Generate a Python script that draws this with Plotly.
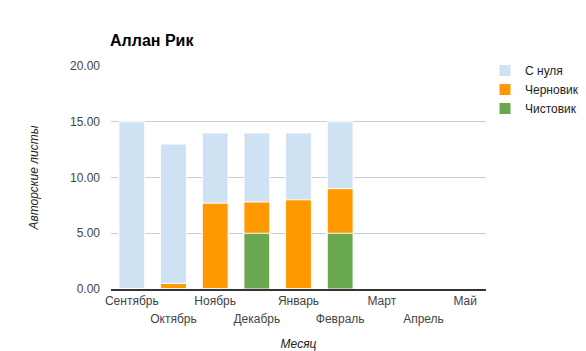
import plotly.graph_objects as go

months = ["Сентябрь", "Октябрь", "Ноябрь", "Декабрь", "Январь", "Февраль", "Март", "Апрель", "Май"]
s_nulya = [15, 13, 14, 14, 14, 15, 0, 0, 0]
chernovik = [0, 0.5, 7.7, 7.8, 8, 9, 0, 0, 0]
chistovik = [0, 0, 0, 5, 0, 5, 0, 0, 0]

names = ["С нуля", "Черновик", "Чистовик"]
colors = ["#cfe2f3", "#ff9900", "#6aa84f"]
series = [s_nulya, chernovik, chistovik]

FONT = "Liberation Sans, Arial, sans-serif"

fig = go.Figure()
for name, vals, c in zip(names, series, colors):
    fig.add_trace(go.Bar(x=months, y=vals, name=name, marker=dict(color=c, line=dict(color="white", width=1)),
                         width=0.62))
# invisible trace for second label row axis
fig.add_trace(go.Scatter(x=months, y=[None]*len(months), xaxis="x2", mode="markers",
                         marker=dict(opacity=0), showlegend=False, hoverinfo="skip"))

even_vals = months[0::2]
odd_vals = months[1::2]

fig.update_layout(
    width=586, height=351,
    barmode="overlay",
    plot_bgcolor="white", paper_bgcolor="white",
    margin=dict(l=111, r=100, t=66, b=62, autoexpand=False),
    font=dict(family=FONT, size=12, color="#444"),
    title=dict(text="<b>Аллан Рик</b>", x=110/586, xanchor="left", xref="container",
               y=1-40/351, yanchor="middle", yref="container",
               font=dict(family=FONT, size=16, color="#000")),
    xaxis=dict(type="category", categoryorder="array", categoryarray=months,
               range=[-0.5, 8.5], tickmode="array", tickvals=even_vals, ticktext=even_vals,
               showgrid=False, ticks="", showline=True, linecolor="#333", linewidth=1.5,
               layer="above traces", zeroline=False, automargin=False,
               ticklabelstandoff=0,
               tickfont=dict(size=12, color="#444"),
               title=dict(text="<i>Месяц</i>", font=dict(size=12, color="#222"), standoff=35)),
    xaxis2=dict(type="category", categoryorder="array", categoryarray=months,
                overlaying="x", matches="x", side="bottom", automargin=False,
                tickmode="array", tickvals=odd_vals, ticktext=odd_vals,
                showgrid=False, ticks="", showline=False, zeroline=False,
                ticklabelstandoff=21, tickfont=dict(size=12, color="#444")),
    yaxis=dict(range=[0, 20], dtick=5, tickformat=".2f", gridcolor="#cccccc", gridwidth=1,
               zeroline=False, automargin=False,
               ticks="", ticklabelstandoff=10, tickfont=dict(size=12, color="#444"),
               title=dict(text="<i>Авторские листы</i>", font=dict(size=12, color="#222"), standoff=28)),
    legend=dict(x=485/586, xref="container", xanchor="left", y=1-56/351, yref="container",
                yanchor="top", font=dict(size=12, color="#222"),
                traceorder="normal", bgcolor="rgba(0,0,0,0)"),
)

fig.write_html("out.html")
